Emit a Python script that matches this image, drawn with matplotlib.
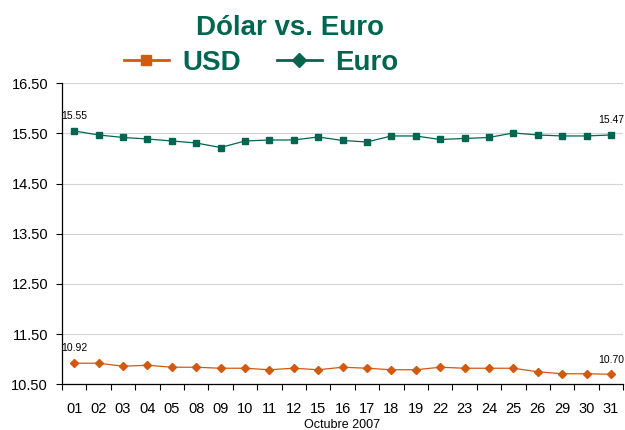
import matplotlib
matplotlib.use("Agg")
import matplotlib.pyplot as plt
from matplotlib.lines import Line2D

# Tipo de cambio, octubre 2007
dias = ["01", "02", "03", "04", "05", "08", "09", "10", "11", "12", "15", "16",
        "17", "18", "19", "22", "23", "24", "25", "26", "29", "30", "31"]
euro = [15.55, 15.47, 15.42, 15.39, 15.35, 15.31, 15.22, 15.35, 15.37, 15.37, 15.43, 15.36,
        15.33, 15.45, 15.45, 15.38, 15.40, 15.42, 15.51, 15.47, 15.45, 15.45, 15.47]
usd = [10.92, 10.92, 10.86, 10.88, 10.84, 10.84, 10.82, 10.82, 10.79, 10.82, 10.79, 10.84,
       10.82, 10.79, 10.79, 10.84, 10.82, 10.82, 10.82, 10.75, 10.71, 10.71, 10.70]
yticks = [10.50, 11.50, 12.50, 13.50, 14.50, 15.50, 16.50]

verde = "#00664F"
naranja = "#D2590E"

plt.rcParams["font.family"] = ["Liberation Sans", "DejaVu Sans"]

fig = plt.figure(figsize=(6.25, 4.3), dpi=100)
ax = fig.add_axes([0.0992, 0.1063, 0.8978, 0.7])

x = list(range(len(dias)))
ax.plot(x, euro, color=verde, lw=0.9, marker="s", ms=4.5, zorder=3)
ax.plot(x, usd, color=naranja, lw=0.9, marker="D", ms=4.2, zorder=3)

# etiquetas de primer y último dato
for serie in (euro, usd):
    for i in (0, len(serie) - 1):
        ax.annotate(f"{serie[i]:.2f}", (x[i], serie[i]), xytext=(0, 7),
                    textcoords="offset points", ha="center", va="bottom",
                    fontsize=7.5, color="black")

ax.set_ylim(10.50, 16.50)
ax.set_yticks(yticks)
ax.set_yticklabels([f"{v:.2f}" for v in yticks], fontsize=10.5)
ax.set_xlim(-0.5, len(dias) - 0.5)
ax.set_xticks([i - 0.5 for i in range(len(dias) + 1)])
ax.set_xticklabels([])
ax.set_xticks(x, minor=True)
ax.set_xticklabels(dias, minor=True, fontsize=10.5)
ax.tick_params(axis="x", which="minor", length=0, pad=13)
ax.tick_params(axis="x", which="major", length=4, width=0.8)
ax.tick_params(axis="y", length=4, width=0.8, pad=6)
ax.set_xlabel("Octubre 2007", fontsize=9, labelpad=2)

ax.grid(axis="y", color="#D4D4D4", lw=0.8)
ax.set_axisbelow(True)
for s in ("top", "right"):
    ax.spines[s].set_visible(False)
ax.spines["left"].set_linewidth(0.9)
ax.spines["bottom"].set_linewidth(0.9)

fig.text(0.464, 1 - 35 / 430, "Dólar vs. Euro", ha="center", va="baseline",
         fontsize=20, fontweight="bold", color=verde)

handles = [Line2D([], [], color=naranja, lw=2, marker="s", ms=7),
           Line2D([], [], color=verde, lw=2, marker="D", ms=7)]
leg = fig.legend(handles, ["USD", "Euro"], loc="center", ncol=2,
                 bbox_to_anchor=(261.5 / 625, 1 - 63 / 430), frameon=False,
                 handlelength=1.6, handletextpad=0.5, columnspacing=1.3,
                 prop={"weight": "bold", "size": 20},
                 labelcolor=verde, borderpad=0)

fig.savefig("out.png", dpi=100)
